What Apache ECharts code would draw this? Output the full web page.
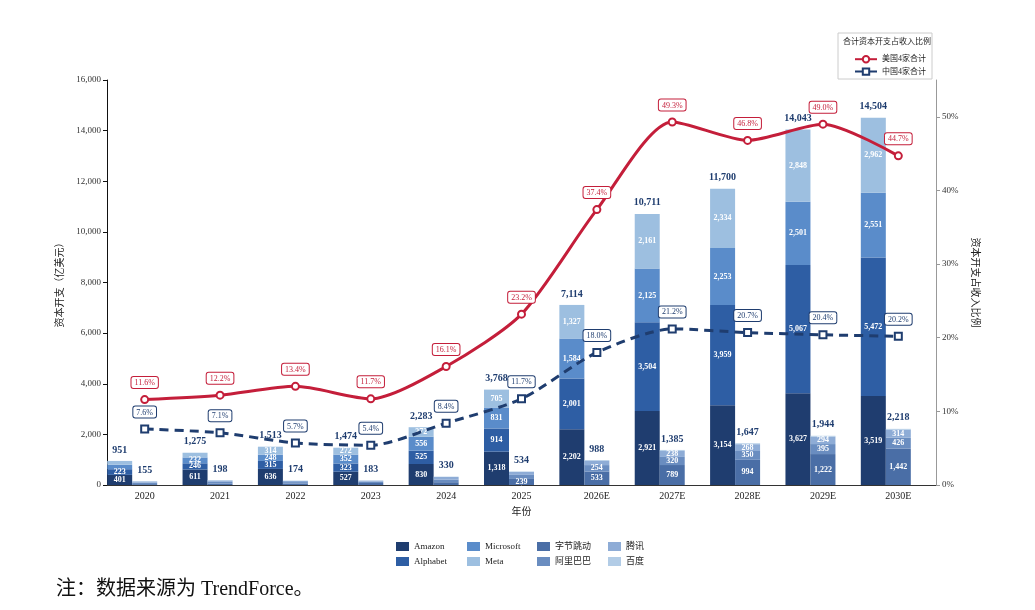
<!DOCTYPE html>
<html>
<head>
<meta charset="utf-8">
<title>资本开支</title>
<script src="https://cdn.jsdelivr.net/npm/echarts@6/dist/echarts.min.js"></script>
<style>
  html, body { margin: 0; padding: 0; background: #fff; }
  #chart { width: 1035px; height: 610px; }
</style>
</head>
<body>
<div id="chart"></div>
<script>
  // 年份
  var years = ['2020', '2021', '2022', '2023', '2024', '2025', '2026E', '2027E', '2028E', '2029E', '2030E'];
  // 美国4家（亿美元）
  var amazon    = [401, 611, 636, 527, 830, 1318, 2202, 2921, 3154, 3627, 3519];
  var alphabet  = [223, 246, 315, 323, 525, 914, 2001, 3504, 3959, 5067, 5472];
  var microsoft = [176, 232, 248, 352, 556, 831, 1584, 2125, 2253, 2501, 2551];
  var meta      = [151, 186, 314, 272, 372, 705, 1327, 2161, 2334, 2848, 2962];
  // 中国4家（亿美元）
  var bytedance = [35, 50, 60, 80, 110, 239, 533, 789, 994, 1222, 1442];
  var alibaba   = [60, 75, 55, 50, 98, 160, 254, 320, 350, 395, 426];
  var tencent   = [45, 52, 44, 38, 107, 120, 170, 238, 268, 294, 314];
  var baidu     = [15, 21, 15, 15, 15, 15, 31, 38, 35, 33, 36];
  // 资本开支占收入比例（%）
  var usRatio = [11.6, 12.2, 13.4, 11.7, 16.1, 23.2, 37.4, 49.3, 46.8, 49.0, 44.7];
  var cnRatio = [7.6, 7.1, 5.7, 5.4, 8.4, 11.7, 18.0, 21.2, 20.7, 20.4, 20.2];

  var FONT = "'Liberation Serif', 'Noto Sans CJK SC', serif";
  var RED = '#c41e3a';
  var NAVY = '#1f3d6f';

  function sum(arrs, i) {
    var s = 0;
    arrs.forEach(function (a) { s += a[i]; });
    return s;
  }
  var usTotal = years.map(function (y, i) { return sum([amazon, alphabet, microsoft, meta], i); });
  var cnTotal = years.map(function (y, i) { return sum([bytedance, alibaba, tencent, baidu], i); });

  function fmt(v) {
    return String(v).replace(/\B(?=(\d{3})+(?!\d))/g, ',');
  }

  function seg(name, stack, data, color) {
    return {
      name: name,
      type: 'bar',
      stack: stack,
      barWidth: 25,
      barGap: '0%',
      data: data,
      itemStyle: { color: color },
      label: {
        show: true,
        position: 'inside',
        color: '#fff',
        fontSize: 8,
        fontWeight: 'bold',
        fontFamily: FONT,
        formatter: function (p) { return p.value >= 200 ? fmt(p.value) : ''; }
      }
    };
  }

  function totalSeries(stack, totals) {
    return {
      name: stack + '_total',
      type: 'bar',
      stack: stack,
      barWidth: 25,
      barGap: '0%',
      data: totals.map(function () { return 0; }),
      itemStyle: { color: 'transparent' },
      label: {
        show: true,
        position: 'top',
        distance: 6,
        color: NAVY,
        fontSize: 10,
        fontWeight: 'bold',
        fontFamily: FONT,
        formatter: function (p) { return fmt(totals[p.dataIndex]); }
      }
    };
  }

  function ratioLabel(color) {
    return {
      show: true,
      position: 'top',
      distance: 7,
      color: color,
      fontSize: 8,
      fontFamily: FONT,
      backgroundColor: '#fff',
      borderColor: color,
      borderWidth: 1,
      borderRadius: 2,
      padding: [2, 3, 1, 3],
      formatter: function (p) { return p.value.toFixed(1) + '%'; }
    };
  }

  var chart = echarts.init(document.getElementById('chart'));

  var legendText = { fontFamily: FONT, fontSize: 9, color: '#222' };
  function colLegend(left, names) {
    return {
      orient: 'vertical',
      left: left,
      top: 537,
      itemWidth: 13,
      itemHeight: 9,
      itemGap: 6,
      icon: 'rect',
      textStyle: legendText,
      data: names
    };
  }

  var option = {
    animation: false,
    textStyle: { fontFamily: FONT },
    grid: { left: 107, right: 99, top: 80, bottom: 125 },
    legend: [
      colLegend(391, ['Amazon', 'Alphabet']),
      colLegend(462, ['Microsoft', 'Meta']),
      colLegend(532, ['字节跳动', '阿里巴巴']),
      colLegend(603, ['腾讯', '百度']),
      {
        orient: 'vertical',
        left: 849,
        top: 50,
        itemWidth: 22,
        itemHeight: 8,
        itemGap: 4,
        textStyle: { fontFamily: FONT, fontSize: 8, color: '#222' },
        data: ['美国4家合计', '中国4家合计']
      }
    ],
    graphic: [
      {
        type: 'rect',
        shape: { x: 838, y: 33, width: 94, height: 46 },
        style: { fill: '#fff', stroke: '#ccc', lineWidth: 1 },
        z: -1
      },
      {
        type: 'text',
        left: 843,
        top: 38,
        style: { text: '合计资本开支占收入比例', fontFamily: FONT, fontSize: 8, fill: '#222' }
      },
      {
        type: 'text',
        left: 56,
        top: 580,
        style: { text: '注：数据来源为 TrendForce。', fontFamily: FONT, fontSize: 20, fill: '#111' }
      }
    ],
    xAxis: {
      type: 'category',
      data: years,
      name: '年份',
      nameLocation: 'middle',
      nameGap: 22,
      nameTextStyle: { fontSize: 10, color: '#222', fontFamily: FONT },
      axisLine: { lineStyle: { color: '#333' } },
      axisTick: { alignWithLabel: true, length: 4, lineStyle: { color: '#333' } },
      axisLabel: { fontSize: 10, color: '#222', margin: 6 }
    },
    yAxis: [
      {
        type: 'value',
        min: 0,
        max: 16000,
        interval: 2000,
        name: '资本开支（亿美元）',
        nameLocation: 'middle',
        nameGap: 35,
        nameTextStyle: { fontSize: 10, color: '#222', fontFamily: FONT },
        axisLine: { show: true, lineStyle: { color: '#111' } },
        axisTick: { show: true, length: 4, lineStyle: { color: '#111' } },
        axisLabel: { fontSize: 9, color: '#333', margin: 6 },
        splitLine: { show: false }
      },
      {
        type: 'value',
        min: 0,
        max: 55,
        interval: 10,
        position: 'right',
        name: '资本开支占收入比例',
        nameLocation: 'middle',
        nameGap: 27,
        nameRotate: -90,
        nameTextStyle: { fontSize: 10, color: '#222', fontFamily: FONT },
        axisLine: { show: true, lineStyle: { color: '#999' } },
        axisTick: { show: true, length: 4, lineStyle: { color: '#999' } },
        axisLabel: {
          fontSize: 9, color: '#333', margin: 6, showMaxLabel: false,
          formatter: function (v) { return v % 10 === 0 ? v + '%' : ''; }
        },
        splitLine: { show: false }
      }
    ],
    series: [
      seg('Amazon', 'us', amazon, '#1f3d6f'),
      seg('Alphabet', 'us', alphabet, '#2e5ea4'),
      seg('Microsoft', 'us', microsoft, '#5a8cca'),
      seg('Meta', 'us', meta, '#9dbfe0'),
      totalSeries('us', usTotal),
      seg('字节跳动', 'cn', bytedance, '#4a6ea6'),
      seg('阿里巴巴', 'cn', alibaba, '#6a8dc0'),
      seg('腾讯', 'cn', tencent, '#8eacd6'),
      seg('百度', 'cn', baidu, '#b2cce6'),
      totalSeries('cn', cnTotal),
      // empty slot so the China bar sits on the tick
      {
        name: 'pad',
        type: 'bar',
        stack: 'pad',
        barWidth: 25,
        barGap: '0%',
        data: years.map(function () { return '-'; })
      },
      {
        name: '美国4家合计',
        type: 'line',
        yAxisIndex: 1,
        data: usRatio,
        smooth: 0.25,
        symbol: 'circle',
        symbolSize: 7,
        z: 5,
        lineStyle: { color: RED, width: 3 },
        itemStyle: { color: '#fff', borderColor: RED, borderWidth: 2 },
        label: ratioLabel(RED)
      },
      {
        name: '中国4家合计',
        type: 'line',
        yAxisIndex: 1,
        data: cnRatio,
        smooth: 0.25,
        symbol: 'rect',
        symbolSize: 7,
        z: 5,
        lineStyle: { color: NAVY, width: 3, type: [9, 6] },
        itemStyle: { color: '#fff', borderColor: NAVY, borderWidth: 2 },
        label: ratioLabel(NAVY)
      }
    ]
  };

  chart.setOption(option);
</script>
</body>
</html>
